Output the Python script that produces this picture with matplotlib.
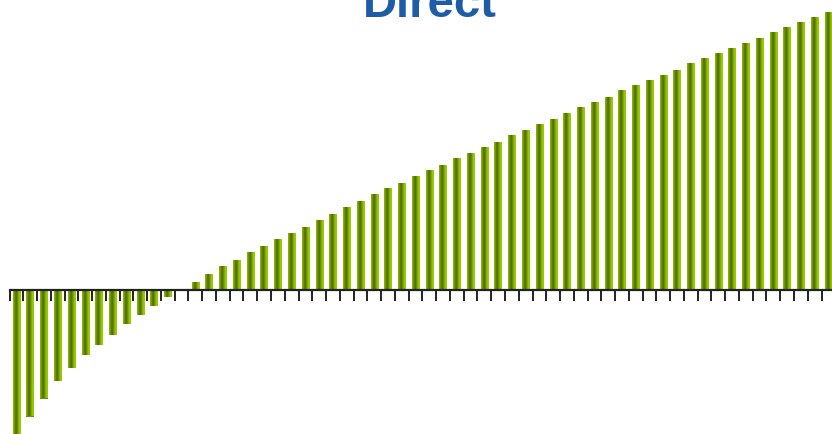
import numpy as np
import matplotlib
matplotlib.use("Agg")
from matplotlib import pyplot as plt
from matplotlib.colors import LinearSegmentedColormap

"""
bar chart 'Direct' - values read off the picture
"""

negative = [-148, -127, -109, -91.5, -78.7, -65.7, -55.7, -45.7, -34.7, -25.7, -16.7, -7.7]
zero_gap = [0]
positive = [7.5, 15.5, 23.5, 29.5, 37.5, 43.5, 50.5, 56.5, 62.5, 69.5, 75.5, 82.5,
            88.5, 95.5, 101.5, 106.5, 113.5, 119.5, 124.5, 131.5, 136.5, 142.5,
            147.5, 154.5, 159.5, 165.5, 170.5, 176.5, 182.5, 187.5, 192.5, 199.5,
            204.5, 209.5, 214.5, 219.5, 226.5, 231.5, 236.5, 241.5, 246.5, 251.5,
            257.5, 262.5, 267.5, 272.5, 277.5]
values = negative + zero_gap + positive
title = 'Direct'

""" green stripe look of each bar """
bar_cmap = LinearSegmentedColormap.from_list(
    'bar', [(0.0, '#8fc000'), (0.2, '#6e9400'), (0.4, '#4c6600'),
            (0.6, '#6f9600'), (0.8, '#95c800'), (1.0, '#9ccc00')])
grad = np.linspace(0, 1, 64).reshape(1, -1)

fig = plt.figure(figsize=(8.32, 4.34), dpi=100)
ax = fig.add_axes([9.5 / 832, 0, 825.8 / 832, 1])

x = np.arange(len(values))
w = 0.53
bars = ax.bar(x, values, width=w, color='#6b8f00', linewidth=0)
for b, v in zip(bars, values):
    if v == 0:
        continue
    x0 = b.get_x()
    lo, hi = min(0, v), max(0, v)
    im = ax.imshow(grad, extent=(x0, x0 + w, lo, hi), aspect='auto',
                   cmap=bar_cmap, interpolation='bilinear', zorder=2)
    im.set_clip_path(b)

ax.set_xlim(-0.5, len(values) - 0.5)
ax.set_ylim(-144.5, 289.5)

""" axis line at zero, ticks between bars """
for s in ['top', 'right', 'left']:
    ax.spines[s].set_visible(False)
ax.spines['bottom'].set_position(('data', 0))
ax.spines['bottom'].set_linewidth(1.6)
ax.spines['bottom'].set_color('#222222')
ax.spines['bottom'].set_zorder(5)
ax.set_xticks(np.arange(len(values) + 1) - 0.5)
ax.set_xticklabels([])
ax.tick_params(axis='x', direction='out', length=8, width=1.3, color='#111111')
ax.set_yticks([])
ax.patch.set_visible(False)

fig.text(430 / 832, (434 - 17) / 434, title, ha='center', va='baseline',
         fontsize=34, fontweight='bold', color='#1f5ca8', family='Liberation Sans')

fig.savefig('out.png', dpi=100)
